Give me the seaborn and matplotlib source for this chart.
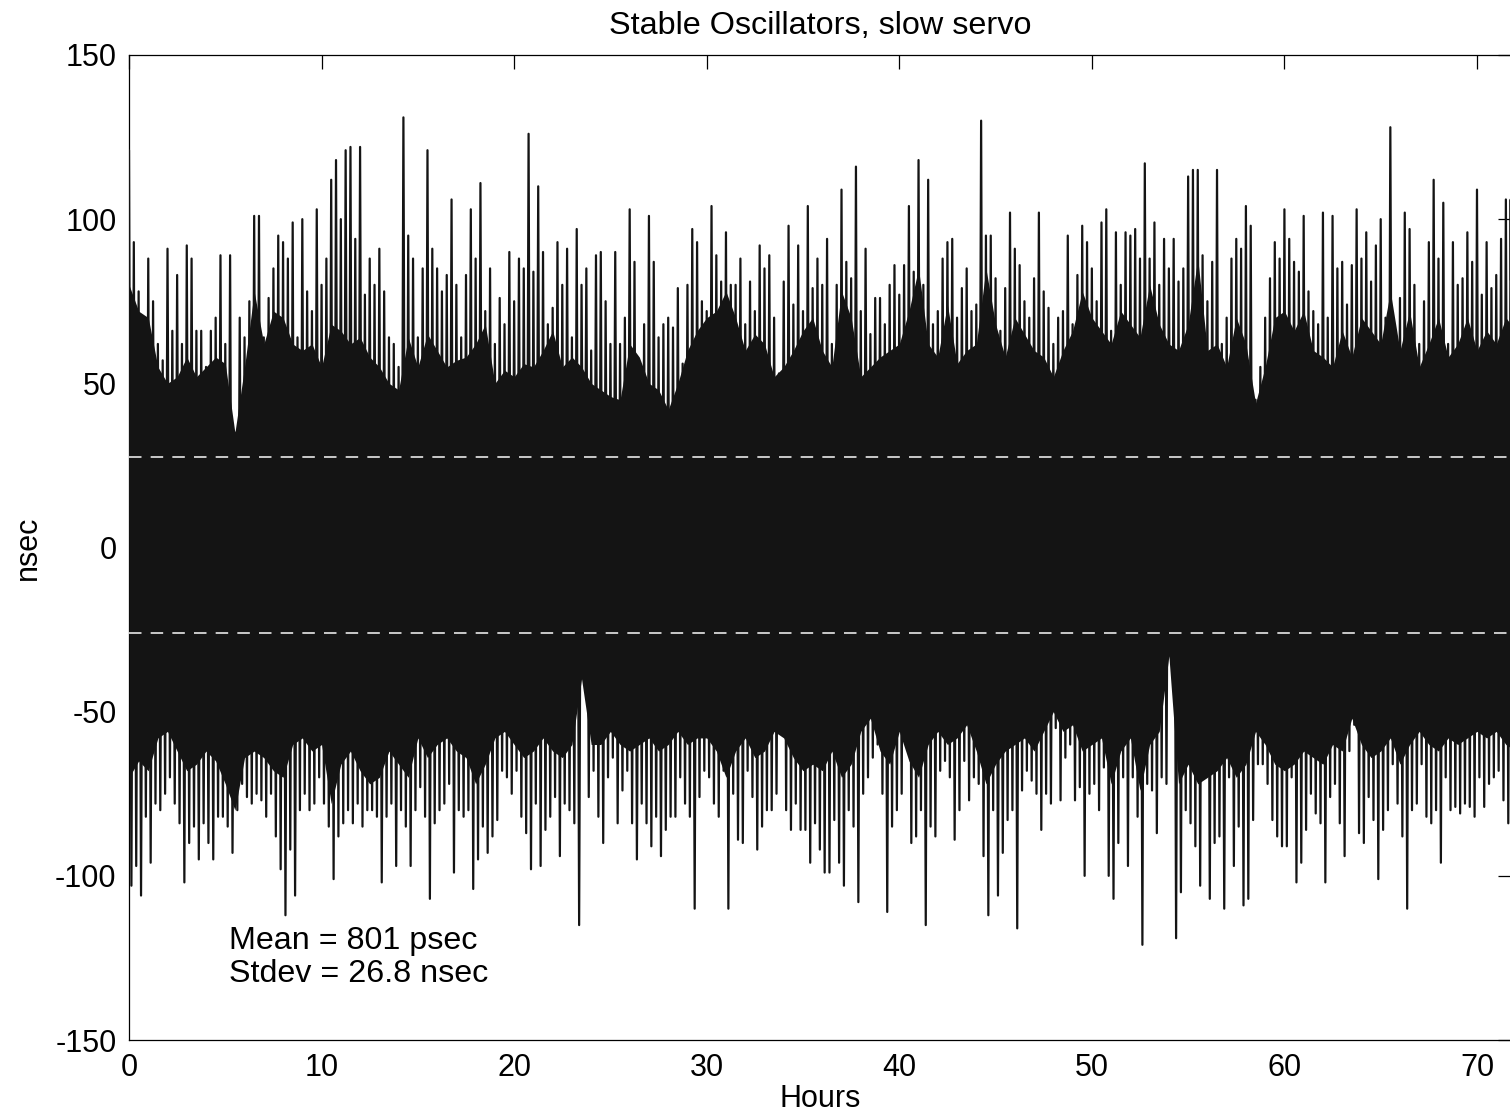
import numpy as np
import pandas as pd
import matplotlib
matplotlib.use("Agg")
import matplotlib.pyplot as plt
import seaborn as sns

# ---------------- data ----------------
title = "Stable Oscillators, slow servo"
x_label = "Hours"
y_label = "nsec"
mean_psec = 801
stdev_nsec = 26.8

step_h = 0.25  # sampling of the envelope (hours)

# positive excursions, one every 0.25 h starting at 0 h
upper_nsec = [
    121, 93, 78, 70, 88, 75, 62, 57, 91, 66, 83, 62, 92, 88, 66, 66,
    55, 66, 70, 89, 62, 89, 35, 70, 64, 75, 101, 101, 64, 76, 85, 95,
    93, 88, 99, 64, 100, 78, 72, 103, 80, 88, 112, 118, 100, 121, 122, 94,
    122, 77, 88, 80, 91, 78, 64, 62, 55, 131, 95, 88, 64, 85, 121, 91,
    85, 78, 83, 106, 80, 64, 83, 103,
    88, 111, 72, 85, 62, 76, 68, 90, 75, 88, 85, 126, 84, 110, 90, 68,
    73, 93, 80, 91, 64, 97, 80, 85, 60, 89, 90, 75, 62, 90, 62, 70,
    103, 87, 50, 68, 101, 87, 64, 68, 70, 67, 79, 56, 80, 97, 93, 75,
    72, 104, 89, 81, 96, 80, 80, 88, 68, 81, 72, 92, 85, 89, 70, 53,
    81, 98, 74, 92, 72, 104, 79, 88,
    80, 94, 62, 80, 109, 87, 82, 116, 72, 91, 65, 76, 76, 68, 80, 86,
    77, 86, 104, 84, 118, 80, 112, 68, 72, 88, 93, 94, 70, 79, 85, 72,
    74, 130, 95, 95, 82, 66, 79, 102, 91, 86, 75, 70, 82, 102, 78, 73,
    62, 70, 72, 95, 68, 83, 98, 93, 85, 75, 99, 103, 66, 96, 80, 96,
    95, 97, 88, 117, 88, 99, 80, 94,
    85, 94, 81, 85, 113, 115, 115, 89, 75, 87, 115, 62, 70, 88, 94, 91,
    104, 98, 45, 55, 70, 82, 93, 88, 103, 94, 87, 84, 101, 78, 72, 68,
    102, 70, 101, 85, 87, 74, 86, 103, 88, 96, 81, 92, 100, 70, 128, 56,
    76, 102, 97, 80, 62, 75, 93, 112, 88, 105, 62, 93, 80, 82, 96, 87,
    109, 77, 93, 79, 83, 94, 106, 106,
]

# negative excursions, one every 0.25 h starting at 0.125 h
lower_nsec = [
    -103, -97, -106, -82, -96, -78, -80, -75, -70, -78, -84, -102, -90, -85, -95, -84,
    -90, -95, -82, -82, -85, -93, -80, -72, -76, -78, -75, -77, -82, -75, -88, -98,
    -112, -92, -106, -80, -75, -80, -78, -70, -78, -85, -101, -88, -84, -80, -84, -78,
    -85, -80, -80, -82, -102, -82, -78, -97, -80, -85, -97, -80, -73, -82, -107, -84,
    -80, -78, -72, -99, -80, -82, -80, -104,
    -95, -85, -93, -88, -83, -68, -70, -75, -68, -82, -87, -98, -78, -97, -86, -82,
    -76, -94, -78, -80, -84, -115, -38, -76, -68, -82, -90, -70, -64, -84, -74, -68,
    -84, -95, -78, -84, -91, -82, -94, -86, -82, -82, -70, -78, -82, -110, -76, -68,
    -70, -78, -82, -68, -110, -75, -89, -90, -68, -76, -92, -85, -80, -80, -75, -56,
    -80, -86, -78, -86, -86, -96, -84, -92,
    -99, -99, -83, -96, -103, -80, -85, -108, -75, -70, -64, -60, -75, -111, -85, -80,
    -75, -60, -90, -88, -80, -115, -85, -88, -68, -65, -70, -89, -80, -65, -77, -70,
    -72, -94, -112, -80, -106, -93, -83, -80, -116, -74, -68, -71, -75, -86, -75, -78,
    -55, -77, -64, -60, -77, -73, -100, -75, -72, -80, -67, -100, -107, -90, -70, -97,
    -70, -82, -121, -72, -74, -87, -70, -72,
    -35, -119, -105, -80, -84, -91, -103, -60, -107, -90, -88, -110, -70, -97, -85, -109,
    -107, -83, -66, -66, -72, -83, -88, -91, -91, -70, -102, -96, -86, -75, -81, -84,
    -102, -76, -72, -84, -94, -62, -54, -87, -90, -76, -83, -101, -86, -80, -66, -78,
    -88, -110, -80, -78, -66, -82, -84, -80, -96, -70, -80, -79, -81, -78, -79, -82,
    -70, -79, -72, -70, -68, -77, -84, -85,
]

# level of the solid black core, every 0.5 h from 0 h to 72 h
body_step_h = 0.5
body_top_nsec = [
    80, 72, 70, 55, 50, 52, 58, 52, 55, 58, 56, 35, 55, 78, 62, 72,
    70, 62, 60, 62, 55, 68, 66, 62, 64, 58, 55, 50, 48, 64, 55, 65,
    60, 55, 57, 58, 62, 68, 50, 54, 52, 56, 55, 60, 66, 55, 58, 55,
    50, 48, 46, 45, 62, 58, 50, 48, 42, 50, 60, 66, 70, 72, 78, 70,
    60, 65, 62, 52, 55, 60, 66, 70, 60, 55, 78, 70, 52, 55, 58, 60,
    62, 72, 85, 62, 58, 74, 56, 60, 62, 85, 68, 58, 70, 65, 60, 58,
    52, 60, 66, 78, 70, 66, 62, 72, 68, 64, 80, 68, 62, 60, 68, 88,
    60, 62, 55, 70, 62, 44, 55, 70, 72, 66, 72, 60, 58, 55, 66, 58,
    70, 66, 62, 78, 60, 72, 55, 62, 70, 58, 62, 70, 60, 66, 62, 70, 66,
]
body_bottom_nsec = [
    -70, -65, -68, -58, -56, -62, -68, -66, -62, -65, -72, -80, -64, -62, -64, -68,
    -70, -60, -58, -62, -60, -78, -66, -62, -68, -72, -70, -62, -66, -70, -58, -64,
    -60, -58, -62, -64, -72, -66, -58, -56, -60, -64, -62, -58, -62, -64, -60, -40,
    -60, -60, -56, -60, -62, -60, -58, -62, -60, -56, -60, -58, -58, -62, -70, -62,
    -58, -64, -62, -56, -58, -64, -68, -66, -68, -62, -70, -66, -56, -52, -62, -66,
    -56, -65, -70, -60, -56, -60, -58, -54, -62, -72, -66, -62, -60, -58, -62, -56,
    -50, -56, -54, -62, -60, -58, -72, -62, -58, -74, -60, -56, -33, -72, -66, -72,
    -70, -68, -64, -70, -66, -56, -60, -66, -68, -66, -62, -64, -66, -60, -62, -52,
    -60, -64, -62, -58, -66, -60, -56, -60, -62, -58, -60, -58, -56, -58, -56, -60, -62,
]

y_ticks = [-150, -100, -50, 0, 50, 100, 150]
x_ticks = [0, 10, 20, 30, 40, 50, 60, 70]

# ---------------- build the trace ----------------
n = len(upper_nsec)
t_up = np.arange(n) * step_h
t_lo = t_up + step_h / 2
hours = np.empty(2 * n)
values = np.empty(2 * n)
hours[0::2] = t_up
hours[1::2] = t_lo
values[0::2] = upper_nsec
values[1::2] = lower_nsec
trace = pd.DataFrame({"Hours": hours, "nsec": values})

body_hours = np.arange(len(body_top_nsec)) * body_step_h

mean_nsec = mean_psec / 1000.0

# ---------------- style ----------------
sns.set_theme(style="white")
plt.rcParams["font.family"] = ["Liberation Sans", "DejaVu Sans"]
plt.rcParams["axes.unicode_minus"] = False
plt.rcParams["axes.edgecolor"] = "black"
plt.rcParams["axes.linewidth"] = 0.9

W, H = 1510, 1115
fig = plt.figure(figsize=(W / 100, H / 100), dpi=100)
left_px, right_px, top_px, bottom_px = 129, 1512, 55, 1040
ax = fig.add_axes([left_px / W, 1 - bottom_px / H,
                   (right_px - left_px) / W, (bottom_px - top_px) / H])

ink = "#141414"
ax.fill_between(body_hours, body_bottom_nsec, body_top_nsec,
                color=ink, lw=0, zorder=2)
sns.lineplot(data=trace, x="Hours", y="nsec", ax=ax, color=ink, linewidth=1.6,
             estimator=None, sort=False, zorder=3)

for lvl in (mean_nsec + stdev_nsec, mean_nsec - stdev_nsec):
    ax.axhline(lvl, color="#e8e8e8", lw=1.2, dashes=(7.5, 5.5), zorder=4)

ax.set_xlim(0, (right_px - left_px) / 19.257)
ax.set_ylim(-150, 150)
ax.set_xticks(x_ticks)
ax.set_yticks(y_ticks)
ax.tick_params(direction="in", length=10, width=0.9, top=True, right=True,
               labelsize=22, pad=9, colors="black")
for s in ax.spines.values():
    s.set_color("black")
    s.set_linewidth(0.9)

ax.set_title(title, fontsize=23.3, pad=15, color="black")
ax.set_xlabel(x_label, fontsize=22, labelpad=1, color="black")
ax.set_ylabel(y_label, fontsize=22, labelpad=9, color="black")

ax.text(5.2, -120, f"Mean = {mean_psec} psec", fontsize=23.2, va="center", ha="left", color="black")
ax.text(5.2, -130, f"Stdev = {stdev_nsec} nsec", fontsize=23.2, va="center", ha="left", color="black")

fig.savefig("out.png", dpi=100, facecolor="white")
